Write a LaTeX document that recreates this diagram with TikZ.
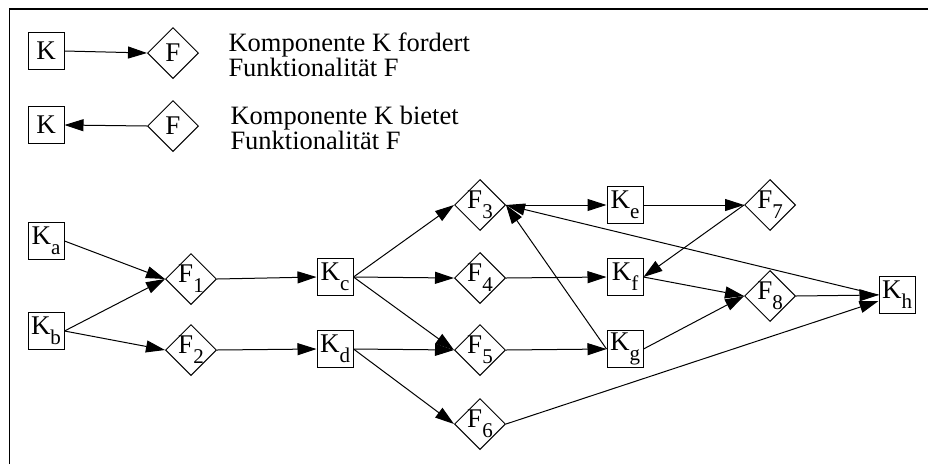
\documentclass[tikz,border=0pt]{standalone}
\usepackage{fontspec}
\setmainfont{Liberation Serif}
\usetikzlibrary{arrows.meta,shapes.geometric}

\newcommand{\idx}[2]{#1\raisebox{-10pt}{\fontsize{21}{21}\selectfont #2}}

\begin{document}
\begin{tikzpicture}[x=1pt,y=-1pt,line width=1pt,
  >={Triangle[length=19pt,width=12pt]},
  comp/.style={draw,rectangle,inner sep=0pt,minimum width=36pt,minimum height=37pt,font=\fontsize{27}{27}\selectfont},
  func/.style={draw,diamond,inner sep=0pt,minimum width=51pt,minimum height=51pt,label={[font=\fontsize{27}{27}\selectfont]center:#1}},
  legend/.style={anchor=west,align=left,inner sep=0pt,font=\fontsize{26.5}{25}\selectfont}]
\useasboundingbox (0,0) rectangle (928,464);
\draw[line width=1.6pt] (9.5,464) -- (9.5,9) -- (928,9);

% legend
\node[comp] (legK1) at (46,51) {K};
\node[func=F] (legF1) at (173,53) {};
\node[legend] (legT1) at (228,55) {Komponente K fordert\\Funktionalität F};
\node[comp] (legK2) at (46,125) {K};
\node[func=F] (legF2) at (173,126) {};
\node[legend] (legT2) at (230,128) {Komponente K bietet\\Funktionalität F};

% components and functions
\node[comp] (Ka) at (46,241) {\idx{K}{a}};
\node[comp] (Kb) at (46,331) {\idx{K}{b}};
\node[func={\idx{F}{1}}] (F1) at (191,279) {};
\node[func={\idx{F}{2}}] (F2) at (191,350) {};
\node[comp] (Kc) at (335,277) {\idx{K}{c}};
\node[comp] (Kd) at (335,349) {\idx{K}{d}};
\node[func={\idx{F}{3}}] (F3) at (480,205) {};
\node[func={\idx{F}{4}}] (F4) at (480,278) {};
\node[func={\idx{F}{5}}] (F5) at (480,350) {};
\node[func={\idx{F}{6}}] (F6) at (480,424) {};
\node[comp] (Ke) at (625,205) {\idx{K}{e}};
\node[comp] (Kf) at (625,277) {\idx{K}{f}};
\node[comp] (Kg) at (625,349) {\idx{K}{g}};
\node[func={\idx{F}{7}}] (F7) at (770,205) {};
\node[func={\idx{F}{8}}] (F8) at (770,296) {};
\node[comp] (Kh) at (897,295) {\idx{K}{h}};

\path[->]
(legK1.east) edge (legF1.west)
(legF2.west) edge (legK2.east)
(Ka.east) edge (F1.west)
(Kb.east) edge (F1.west)
(Kb.east) edge (F2.west)
(F1.east) edge (Kc.west)
(F2.east) edge (Kd.west)
(Kc.east) edge (F3.west)
(Kc.east) edge (F4.west)
(Kc.east) edge (F5.west)
(Kd.east) edge (F5.west)
(Kd.east) edge (F6.west)
(F3.east) edge (Ke.west)
(F4.east) edge (Kf.west)
(F5.east) edge (Kg.west)
(Kg.west) edge (F3.east)
(Kh.west) edge (F3.east)
(Ke.east) edge (F7.west)
(F7.west) edge (Kf.east)
(Kf.east) edge (F8.west)
(Kg.east) edge (F8.west)
(F8.east) edge (Kh.west)
(F6.east) edge ([yshift=-6pt]Kh.west)
;
\end{tikzpicture}
\end{document}
